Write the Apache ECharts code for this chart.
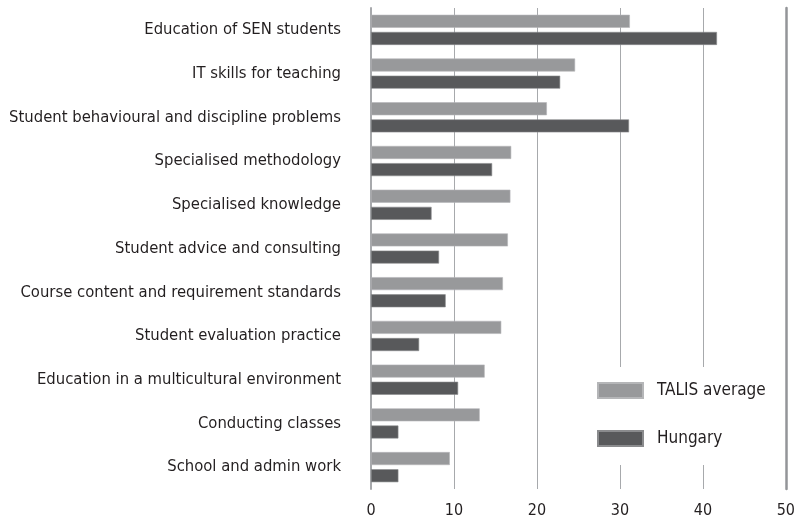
<!DOCTYPE html>
<html>
<head>
<meta charset="utf-8">
<script src="https://cdn.jsdelivr.net/npm/echarts@6/dist/echarts.min.js"></script>
<style>
  html, body { margin: 0; padding: 0; background: #fff; }
  #main { width: 798px; height: 520px; }
</style>
</head>
<body>
<div id="main"></div>
<script>
var categories = [
  'Education of SEN students',
  'IT skills for teaching',
  'Student behavioural and discipline problems',
  'Specialised methodology',
  'Specialised knowledge',
  'Student advice and consulting',
  'Course content and requirement standards',
  'Student evaluation practice',
  'Education in a multicultural environment',
  'Conducting classes',
  'School and admin work'
];
var talisAverage = [31.2, 24.6, 21.2, 16.9, 16.8, 16.5, 15.9, 15.7, 13.7, 13.1, 9.5];
var hungary = [41.7, 22.8, 31.1, 14.6, 7.3, 8.2, 9.0, 5.8, 10.5, 3.3, 3.3];
var xTicks = [0, 10, 20, 30, 40, 50];

var fontFam = "'DejaVu Sans Condensed', 'Liberation Sans Narrow', sans-serif";
var chart = echarts.init(document.getElementById('main'));

var option = {
  animation: false,
  textStyle: { fontFamily: fontFam },
  grid: { left: 371, right: 11, top: 8, bottom: 31, containLabel: false },
  legend: {
    orient: 'vertical',
    left: 584,
    top: 367,
    padding: [15, 14, 18, 13],
    backgroundColor: '#fff',
    itemWidth: 45,
    itemHeight: 15,
    itemGap: 31,
    icon: 'rect',
    textStyle: { fontSize: 17, color: '#231f20', fontFamily: fontFam, padding: [0, 0, 0, 9] },
    data: ['TALIS average', 'Hungary']
  },
  xAxis: {
    type: 'value',
    min: xTicks[0],
    max: xTicks[xTicks.length - 1],
    interval: 10,
    axisLine: { show: false },
    axisTick: { show: false },
    axisLabel: { fontSize: 16, color: '#231f20', margin: 14, fontFamily: fontFam },
    splitLine: { lineStyle: { color: '#a7a9ac', width: 1 } }
  },
  yAxis: [{
    type: 'category',
    inverse: true,
    data: categories,
    axisLine: { lineStyle: { color: '#a7a9ac', width: 2 } },
    axisTick: { show: false },
    axisLabel: { fontSize: 16.5, color: '#231f20', margin: 30, fontFamily: fontFam }
  }, {
    type: 'category',
    inverse: true,
    position: 'right',
    data: categories,
    axisLine: { show: true, lineStyle: { color: '#939598', width: 2.5 } },
    axisTick: { show: false },
    axisLabel: { show: false }
  }],
  series: [{
    name: 'TALIS average',
    type: 'bar',
    data: talisAverage,
    barWidth: 13,
    barGap: '32%',
    itemStyle: { color: '#98999b', borderColor: '#b5b6b8', borderWidth: 0.6 }
  }, {
    name: 'Hungary',
    type: 'bar',
    data: hungary,
    barWidth: 13,
    barGap: '32%',
    itemStyle: { color: '#58595b', borderColor: '#8a8b8d', borderWidth: 0.6 }
  }]
};

chart.setOption(option);
</script>
</body>
</html>
